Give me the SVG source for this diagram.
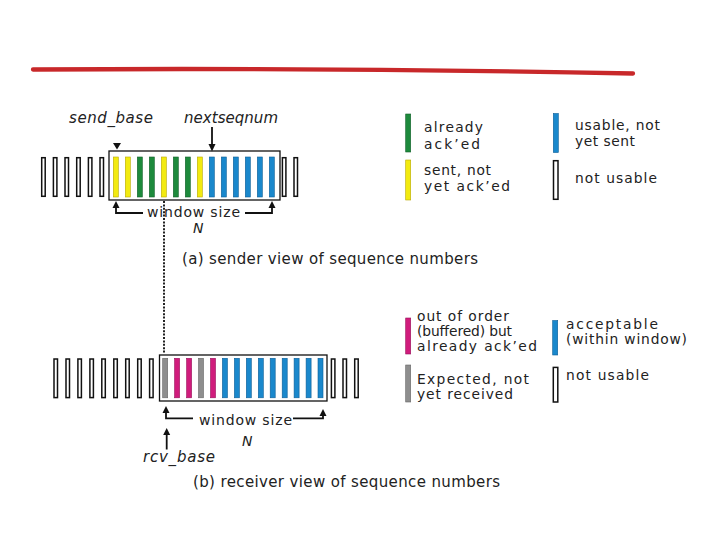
<svg xmlns="http://www.w3.org/2000/svg" width="720" height="540" viewBox="0 0 720 540">
<style>
text{font-family:"DejaVu Sans","Liberation Sans",sans-serif;fill:#222;font-size:15px}
.lg{font-size:13.8px}
.ws{font-size:14px}
.it{font-style:italic}
.o{fill:#fff;stroke:#111;stroke-width:1.5}
.y{fill:#f2ea10;stroke:#b8a800;stroke-width:0.6}
.g{fill:#1d8a3c;stroke:#11602a;stroke-width:0.6}
.b{fill:#1a88cc;stroke:#0d5e96;stroke-width:0.6}
.m{fill:#d01c7c;stroke:#98105a;stroke-width:0.6}
.gr{fill:#8e8e8e;stroke:#666;stroke-width:0.6}
.box{fill:none;stroke:#111;stroke-width:1.3}
.ln{fill:none;stroke:#111;stroke-width:1.8}
.ah{fill:#111}
</style>
<rect width="720" height="540" fill="#fff"/>
<path d="M33,69.5 Q330,67.5 633,73.5" fill="none" stroke="#c8282a" stroke-width="4.3" stroke-linecap="round"/>

<g id="sender">
<rect class="o" x="41.7" y="157.7" width="3.5" height="38.6"/>
<rect class="o" x="53.4" y="157.7" width="3.5" height="38.6"/>
<rect class="o" x="65.0" y="157.7" width="3.5" height="38.6"/>
<rect class="o" x="76.7" y="157.7" width="3.5" height="38.6"/>
<rect class="o" x="88.4" y="157.7" width="3.5" height="38.6"/>
<rect class="o" x="100.0" y="157.7" width="3.5" height="38.6"/>
<rect class="y" x="113.3" y="157" width="5" height="40"/>
<rect class="y" x="125.3" y="157" width="5" height="40"/>
<rect class="g" x="137.3" y="157" width="5" height="40"/>
<rect class="g" x="149.3" y="157" width="5" height="40"/>
<rect class="y" x="161.3" y="157" width="5" height="40"/>
<rect class="g" x="173.3" y="157" width="5" height="40"/>
<rect class="g" x="185.3" y="157" width="5" height="40"/>
<rect class="y" x="197.3" y="157" width="5" height="40"/>
<rect class="b" x="209.3" y="157" width="5" height="40"/>
<rect class="b" x="221.3" y="157" width="5" height="40"/>
<rect class="b" x="233.3" y="157" width="5" height="40"/>
<rect class="b" x="245.3" y="157" width="5" height="40"/>
<rect class="b" x="257.3" y="157" width="5" height="40"/>
<rect class="b" x="269.3" y="157" width="5" height="40"/>
<rect class="o" x="282.4" y="157.7" width="3.5" height="38.6"/>
<rect class="o" x="294.0" y="157.7" width="3.5" height="38.6"/>
<rect class="box" x="109" y="151" width="171" height="49"/>
<text class="it" x="69" y="123" textLength="84">send_base</text>
<text class="it" x="184" y="123" textLength="94">nextseqnum</text>
<text class="ws" x="147" y="217" textLength="93">window size</text>
<text class="it ws" x="193" y="233">N</text>
<text x="182" y="264" textLength="296">(a) sender view of sequence numbers</text>
</g>

<g id="receiver">
<rect class="o" x="54.0" y="359" width="3.5" height="38.6"/>
<rect class="o" x="66.0" y="359" width="3.5" height="38.6"/>
<rect class="o" x="77.9" y="359" width="3.5" height="38.6"/>
<rect class="o" x="89.9" y="359" width="3.5" height="38.6"/>
<rect class="o" x="101.8" y="359" width="3.5" height="38.6"/>
<rect class="o" x="113.8" y="359" width="3.5" height="38.6"/>
<rect class="o" x="125.7" y="359" width="3.5" height="38.6"/>
<rect class="o" x="137.7" y="359" width="3.5" height="38.6"/>
<rect class="o" x="149.6" y="359" width="3.5" height="38.6"/>
<rect class="gr" x="162.7" y="358.3" width="5" height="39.5"/>
<rect class="m" x="174.6" y="358.3" width="5" height="39.5"/>
<rect class="m" x="186.6" y="358.3" width="5" height="39.5"/>
<rect class="gr" x="198.5" y="358.3" width="5" height="39.5"/>
<rect class="m" x="210.5" y="358.3" width="5" height="39.5"/>
<rect class="b" x="222.4" y="358.3" width="5" height="39.5"/>
<rect class="b" x="234.4" y="358.3" width="5" height="39.5"/>
<rect class="b" x="246.3" y="358.3" width="5" height="39.5"/>
<rect class="b" x="258.3" y="358.3" width="5" height="39.5"/>
<rect class="b" x="270.2" y="358.3" width="5" height="39.5"/>
<rect class="b" x="282.2" y="358.3" width="5" height="39.5"/>
<rect class="b" x="294.1" y="358.3" width="5" height="39.5"/>
<rect class="b" x="306.1" y="358.3" width="5" height="39.5"/>
<rect class="b" x="318.0" y="358.3" width="5" height="39.5"/>
<rect class="o" x="331.4" y="359" width="3.5" height="38.6"/>
<rect class="o" x="343.0" y="359" width="3.5" height="38.6"/>
<rect class="o" x="354.7" y="359" width="3.5" height="38.6"/>
<rect class="box" x="159.5" y="355" width="167.5" height="46"/>
<text class="ws" x="199" y="425" textLength="93">window size</text>
<text class="it ws" x="242" y="446">N</text>
<text class="it" x="143" y="462" textLength="72">rcv_base</text>
<text x="193" y="487" textLength="307">(b) receiver view of sequence numbers</text>
</g>

<g id="legend-sender">
<rect class="g" x="405.7" y="114" width="5" height="38"/>
<text class="lg" x="424" y="132" textLength="59">already</text>
<text class="lg" x="424" y="148.5" textLength="56">ack’ed</text>
<rect class="y" x="405.7" y="160" width="5" height="40"/>
<text class="lg" x="424" y="175" textLength="67">sent, not</text>
<text class="lg" x="424" y="191" textLength="86">yet ack’ed</text>
<rect class="b" x="553.3" y="113.5" width="5" height="39"/>
<text class="lg" x="575" y="129.5" textLength="85">usable, not</text>
<text class="lg" x="575" y="146" textLength="60">yet sent</text>
<rect class="o" x="553.5" y="160.7" width="4.5" height="38.6"/>
<text class="lg" x="575" y="183" textLength="82">not usable</text>
</g>

<g id="legend-receiver">
<rect class="m" x="405.7" y="318" width="5" height="36"/>
<text class="lg" x="417" y="321" textLength="92">out of order</text>
<text class="lg" x="417" y="335.5" textLength="95">(buffered) but</text>
<text class="lg" x="417" y="350.5" textLength="120">already ack’ed</text>
<rect class="gr" x="405.7" y="365" width="5" height="37"/>
<text class="lg" x="417" y="383.5" textLength="112">Expected,  not</text>
<text class="lg" x="417" y="399" textLength="96">yet received</text>
<rect class="b" x="552.7" y="320.5" width="5" height="34.5"/>
<text class="lg" x="566" y="328.5" textLength="92">acceptable</text>
<text class="lg" x="566" y="343.5" textLength="121">(within window)</text>
<rect class="o" x="553.3" y="367.4" width="4.5" height="34.6"/>
<text class="lg" x="566" y="379.5" textLength="83">not usable</text>
</g>

<g id="connectors">
<polygon class="ah" points="113,143 121,143 117,149.5"/>
<line class="ln" x1="212" y1="127" x2="212" y2="145" stroke-width="1.3"/>
<polygon class="ah" points="208.5,144 215.5,144 212,151.5"/>
<path class="ln" d="M116,207 V213 H143"/>
<polygon class="ah" points="112.5,208 119.5,208 116,201"/>
<path class="ln" d="M245,213 H272 V207"/>
<polygon class="ah" points="268.5,208 275.5,208 272,201"/>
<line x1="164" y1="201" x2="164" y2="354" stroke="#222" stroke-width="2" stroke-dasharray="2 1.4"/>
<path class="ln" d="M166,412 V418.3 H193"/>
<polygon class="ah" points="162.5,413 169.5,413 166,406"/>
<path class="ln" d="M293,418.3 H323 V415"/>
<polygon class="ah" points="319.5,416 326.5,416 323,409"/>
<line class="ln" x1="166.7" y1="449.5" x2="166.7" y2="434"/>
<polygon class="ah" points="163.2,435 170.2,435 166.7,428"/>
</g>
</svg>
